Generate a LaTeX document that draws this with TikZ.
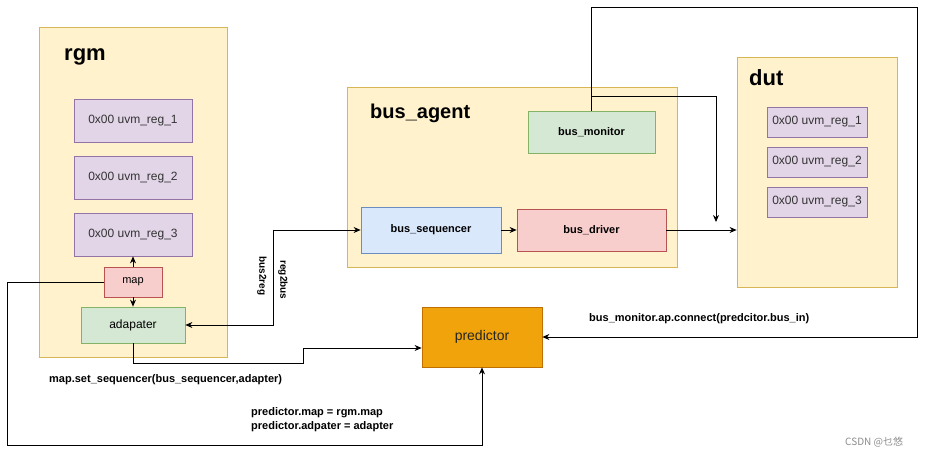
\documentclass[tikz,border=0pt]{standalone}
\usepackage{fontspec}
\setmainfont{Liberation Sans}
\newfontfamily\cjk{Noto Sans CJK SC}
\usetikzlibrary{arrows.meta,calc}
\definecolor{contfill}{HTML}{FFF2CC}
\definecolor{contdraw}{HTML}{D6B656}
\definecolor{regfill}{HTML}{E1D5E7}
\definecolor{regdraw}{HTML}{9673A6}
\definecolor{redfill}{HTML}{F8CECC}
\definecolor{reddraw}{HTML}{B85450}
\definecolor{grnfill}{HTML}{D5E8D4}
\definecolor{grndraw}{HTML}{82B366}
\definecolor{bluefill}{HTML}{DAE8FC}
\definecolor{bluedraw}{HTML}{6C8EBF}
\definecolor{orgfill}{HTML}{F0A30A}
\definecolor{orgdraw}{HTML}{BD7000}
\tikzset{
  box/.style={inner sep=0pt, line width=0.8pt, align=center},
  cont/.style={box, fill=contfill, draw=contdraw},
  regbox/.style={box, fill=regfill, draw=regdraw, font=\fontsize{12}{14}\selectfont, text=black!80},
  title/.style={font=\bfseries\fontsize{22}{26}\selectfont, anchor=west, inner sep=0pt},
  lbl/.style={font=\bfseries\fontsize{11}{13}\selectfont, inner sep=0pt},
  arr/.style={-{Stealth[length=7pt,width=6pt]}, line width=0.8pt},
  darr/.style={{Stealth[length=7pt,width=6pt]}-{Stealth[length=7pt,width=6pt]}, line width=0.8pt},
}
\begin{document}
\begin{tikzpicture}[x=1pt,y=-1pt]
\useasboundingbox[fill=white] (0,0) rectangle (927,457);
% containers
\node[cont, minimum width=188, minimum height=330] (rgm) at (133,192) {};
\node[title] (rgmt) at (64,57) {rgm};
\node[cont, minimum width=330, minimum height=180] (agent) at (512,177) {};
\node[title, font=\bfseries\fontsize{20}{24}\selectfont] (agentt) at (370,113) {bus\_agent};
\node[cont, minimum width=160, minimum height=230] (dut) at (817,172) {};
\node[title] (dutt) at (749,78) {dut};
% rgm regs
\node[regbox, minimum width=118, minimum height=43] (reg1) at (133,120.5) {0x00 uvm\_reg\_1};
\node[regbox, minimum width=118, minimum height=43] (reg2) at (133,177.5) {0x00 uvm\_reg\_2};
\node[regbox, minimum width=118, minimum height=43] (reg3) at (133,234.5) {0x00 uvm\_reg\_3};
\node[box, fill=redfill, draw=reddraw, minimum width=58, minimum height=30, font=\fontsize{11}{13}\selectfont] (map) at (133,282) {map};
\node[box, fill=grnfill, draw=grndraw, minimum width=104, minimum height=36, font=\fontsize{12}{14}\selectfont] (adapter) at (133,325) {adapater};
% agent
\node[box, fill=grnfill, draw=grndraw, minimum width=127, minimum height=42, font=\bfseries\fontsize{11}{13}\selectfont] (mon) at (591.5,132) {bus\_monitor};
\node[box, fill=bluefill, draw=bluedraw, minimum width=140, minimum height=46, font=\bfseries\fontsize{11}{13}\selectfont] (seq) at (431,230) {bus\_sequencer};
\node[box, fill=redfill, draw=reddraw, minimum width=149, minimum height=42, font=\bfseries\fontsize{11}{13}\selectfont] (drv) at (591.5,230) {bus\_driver};
% dut regs
\node[regbox, minimum width=100, minimum height=30] (dreg1) at (817,122) {0x00 uvm\_reg\_1};
\node[regbox, minimum width=100, minimum height=30] (dreg2) at (817,162) {0x00 uvm\_reg\_2};
\node[regbox, minimum width=100, minimum height=30] (dreg3) at (817,202) {0x00 uvm\_reg\_3};
% predictor
\node[box, fill=orgfill, draw=orgdraw, minimum width=120, minimum height=60, font=\fontsize{14}{17}\selectfont, text=black!85] (pred) at (482,337) {predictor};
% connectors
\draw[arr] (map.north) -- (reg3.south);
\draw[arr] (map.south) -- (adapter.north);
\draw[arr] (map.west) -| (7,445) -| (pred.south);
\draw[arr] (adapter.south) |- (303,363) |- ($(pred.west)+(0,11)$);
\draw[darr] (adapter.east) -- (273,325) |- (seq.west);
\draw[arr] (seq.east) -- (drv.west);
\draw[arr] (drv.east) -- (dut.west |- drv.east);
\draw[arr] (mon.north) -- ++(0,-14) -| (716,222);
\draw[arr] (mon.north) |- (917,7) |- (pred.east);
% labels
\node[lbl, rotate=-90, font=\bfseries\fontsize{10}{12}\selectfont] (b2r) at (262,276) {bus2reg};
\node[lbl, rotate=-90, font=\bfseries\fontsize{10}{12}\selectfont] (r2b) at (283,280) {reg2bus};
\node[lbl, anchor=west] (setseq) at (49,380) {map.set\_sequencer(bus\_sequencer,adapter)};
\node[lbl, anchor=west, align=left] (predmap) at (251,420) {predictor.map = rgm.map\\[1pt]predictor.adpater = adapter};
\node[lbl, anchor=west] (conn) at (589,319) {bus\_monitor.ap.connect(predcitor.bus\_in)};
\node[anchor=west, inner sep=0pt, text=black!45, font=\cjk\fontsize{10}{12}\selectfont] (csdn) at (845,442) {CSDN @乜悠};
\end{tikzpicture}
\end{document}
